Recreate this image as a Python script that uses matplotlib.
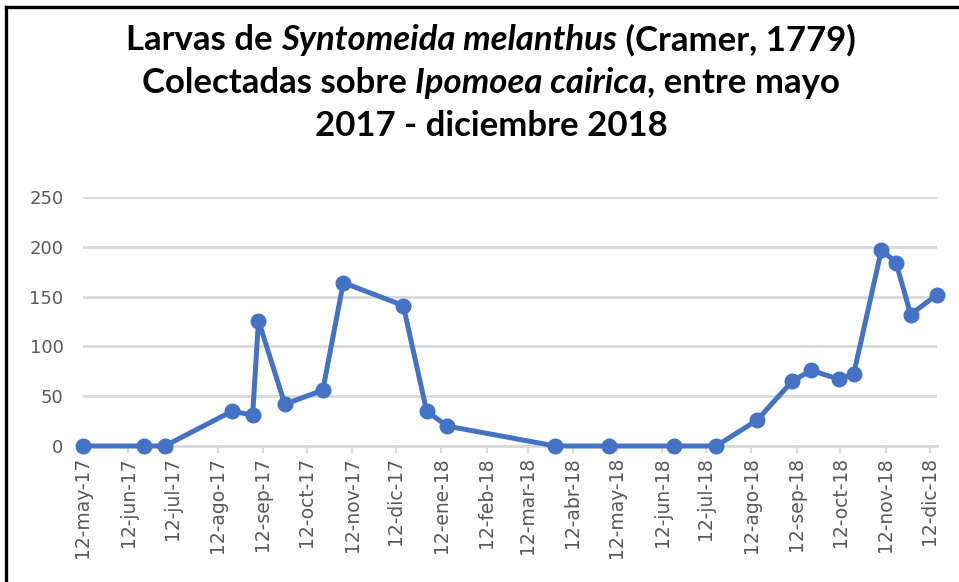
import matplotlib
matplotlib.use("Agg")
import matplotlib.pyplot as plt
from matplotlib.lines import Line2D
import pandas as pd

# sampling dates and larvae counts
fechas = ["2017-05-12", "2017-06-23", "2017-07-07", "2017-08-22", "2017-09-05",
          "2017-09-09", "2017-09-27", "2017-10-23", "2017-11-06", "2017-12-17",
          "2018-01-02", "2018-01-16", "2018-03-31", "2018-05-07", "2018-06-20",
          "2018-07-19", "2018-08-16", "2018-09-09", "2018-09-22", "2018-10-11",
          "2018-10-21", "2018-11-09", "2018-11-19", "2018-11-29", "2018-12-17"]
larvas = [0, 0, 0, 35, 31, 126, 42, 56, 164, 141, 35, 20, 0, 0, 0, 0,
          26, 65, 76, 67, 72, 197, 184, 132, 152]

meses = ["may-17", "jun-17", "jul-17", "ago-17", "sep-17", "oct-17", "nov-17",
         "dic-17", "ene-18", "feb-18", "mar-18", "abr-18", "may-18", "jun-18",
         "jul-18", "ago-18", "sep-18", "oct-18", "nov-18", "dic-18"]
y_ticks = [0, 50, 100, 150, 200, 250]

azul = "#4472C4"
gris_txt = "#595959"
gris_grid = "#D9D9D9"

x = pd.to_datetime(fechas)
tick_dates = pd.date_range("2017-05-01", periods=len(meses), freq="MS") + pd.Timedelta(days=11)
tick_labels = ["12-" + m for m in meses]

fig = plt.figure(figsize=(9.59, 5.82), dpi=100)
ax = fig.add_axes([83 / 959, 1 - 446 / 582, (937 - 83) / 959, (446 - 197) / 582])

ax.plot(x, larvas, color=azul, lw=3.6, marker="o", ms=10.5, zorder=3, clip_on=False)

ax.set_yticks(y_ticks)
ax.set_xticks(tick_dates)
ax.set_xticklabels(tick_labels, rotation=90)
ax.set_xlim(x[0], x[-1])
ax.set_ylim(0, 250)
ax.tick_params(axis="y", length=0, pad=14, labelsize=13, labelcolor=gris_txt)
ax.tick_params(axis="x", length=5, width=1.5, color=gris_grid, pad=3,
               labelsize=13.5, labelcolor=gris_txt)
ax.grid(axis="y", color=gris_grid, lw=2)
ax.set_axisbelow(True)
for s in ["top", "right", "left"]:
    ax.spines[s].set_visible(False)
ax.spines["bottom"].set_color(gris_grid)
ax.spines["bottom"].set_linewidth(2)

# title with mixed bold / bold italic runs
title_lines = [
    [("Larvas de ", "normal"), ("Syntomeida melanthus", "italic"), (" (Cramer, 1779)", "normal")],
    [("Colectadas sobre ", "normal"), ("Ipomoea cairica", "italic"), (", entre mayo", "normal")],
    [("2017 - diciembre 2018", "normal")],
]
title_y = [40, 83, 126]
renderer = fig.canvas.get_renderer()
for parts, ypix in zip(title_lines, title_y):
    texts = []
    for s, style in parts:
        t = fig.text(0, 1 - ypix / 582, s, fontsize=25, fontweight="bold", style=style,
                     family="Lato", va="center", ha="left")
        texts.append(t)
    widths = [t.get_window_extent(renderer).width for t in texts]
    xpos = 491 - sum(widths) / 2
    for t, w in zip(texts, widths):
        t.set_x(xpos / 959)
        xpos += w

# frame of the screenshot (left and top)
fig.add_artist(Line2D([5.5 / 959, 5.5 / 959], [0, 1 - 6.5 / 582], color="black", lw=2.4,
                      transform=fig.transFigure))
fig.add_artist(Line2D([5.5 / 959, 1], [1 - 6.5 / 582, 1 - 6.5 / 582], color="black", lw=2.4,
                      transform=fig.transFigure))

fig.savefig("out.png", dpi=100)
